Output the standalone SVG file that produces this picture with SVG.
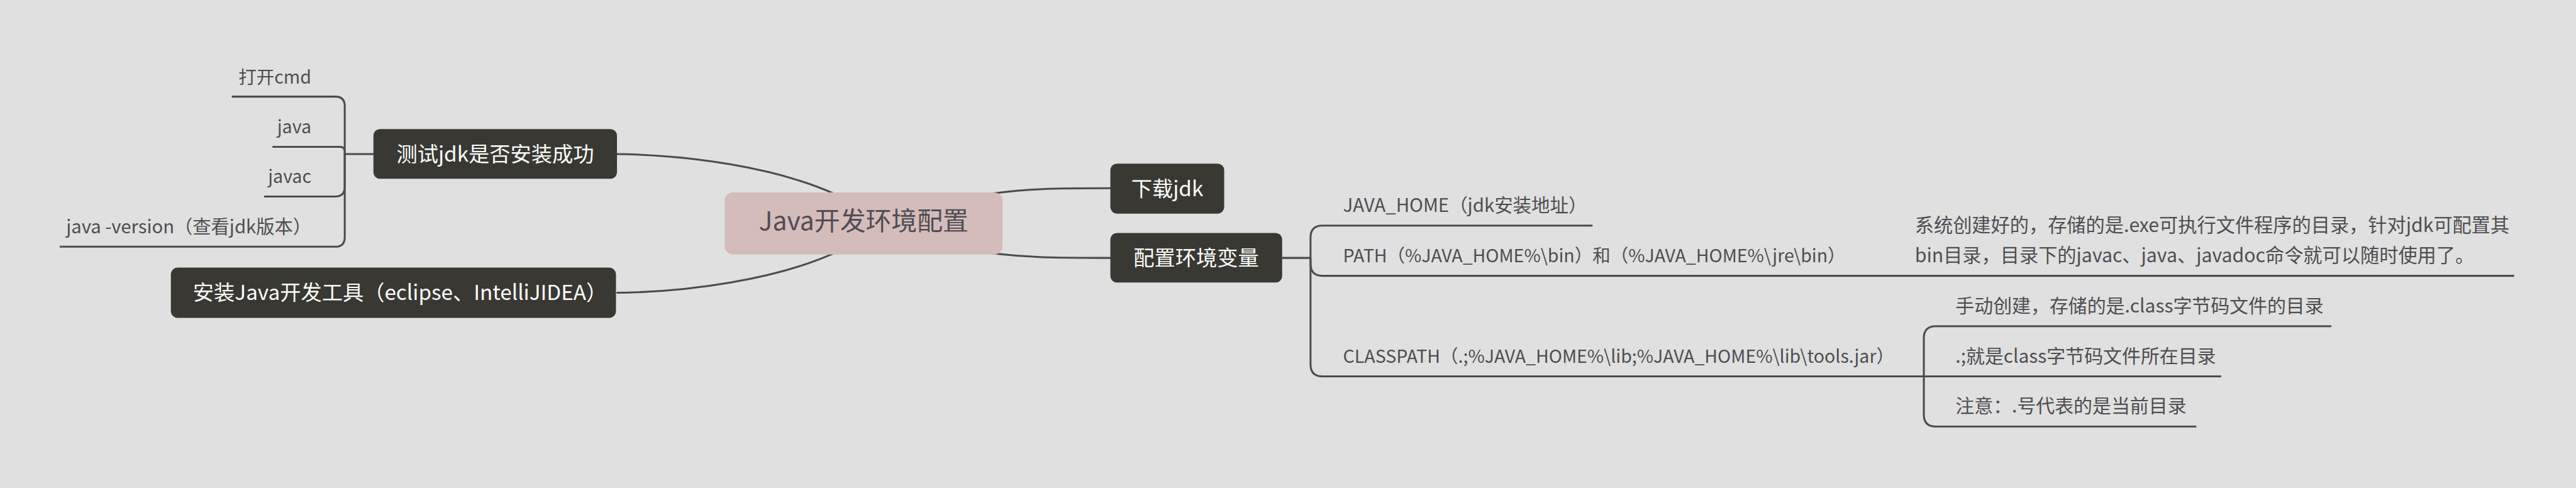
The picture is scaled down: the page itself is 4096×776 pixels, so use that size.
<svg xmlns="http://www.w3.org/2000/svg" width="4096" height="776" viewBox="0 0 4096 776">
<style>
.bg{fill:#e0e0e0}
.ln{fill:none;stroke:#4b4a4f;stroke-width:3.2;stroke-linecap:butt;stroke-linejoin:round}
.topic{fill:#393832}
.central{fill:#d3bcba}
text{font-family:"Noto Sans CJK SC","Microsoft YaHei",sans-serif}
.tt{fill:#ffffff;font-size:35px;text-anchor:middle}
.ct{fill:#4e4d52;font-size:43px;text-anchor:middle}
.st{fill:#4e4d52;font-size:30px}
.st2{fill:#4e4d52;font-size:31.5px}
.lt{fill:#4e4d52;font-size:31.8px}
.end{text-anchor:end}
</style>
<rect class="bg" x="0" y="0" width="4096" height="776"/>
<g transform="scale(0.95)">
<g id="connectors">
<path class="ln" d="M1032,258 C1150,259 1300,280 1400,326"/>
<path class="ln" d="M1032,490 C1150,489 1300,468 1400,422"/>
<path class="ln" d="M1660,324 C1720,316 1760,315 1860,315"/>
<path class="ln" d="M1660,424 C1720,431 1760,431.7 1860,431.7"/>
<path class="ln" d="M625,258 H577"/>
<path class="ln" d="M577,258 V177.7 Q577,161.7 561,161.7 H388"/>
<path class="ln" d="M577,258 V253.7 Q577,245.7 569,245.7 H456"/>
<path class="ln" d="M577,258 V313 Q577,329 561,329 H442"/>
<path class="ln" d="M577,258 V397 Q577,413 561,413 H100"/>
<path class="ln" d="M2146,431.7 H2193.5"/>
<path class="ln" d="M2193.5,431.7 V397.7 Q2193.5,377.7 2213.5,377.7 H2665.6"/>
<path class="ln" d="M2193.5,431.7 V441.7 Q2193.5,461.7 2213.5,461.7 H4208"/>
<path class="ln" d="M2193.5,431.7 V610 Q2193.5,630 2213.5,630 H3220"/>
<path class="ln" d="M3220,630 V566 Q3220,546 3240,546 H3902"/>
<path class="ln" d="M3220,630 H3717.6"/>
<path class="ln" d="M3220,630 V694 Q3220,714 3240,714 H3676"/>
</g>
<g id="central">
<rect class="central" x="1213" y="322" width="465" height="104" rx="14"/>
<text class="ct" x="1445.5" y="385">Java开发环境配置</text>
</g>
<g id="download-jdk">
<rect class="topic" x="1858.5" y="274" width="190.5" height="83.7" rx="11"/>
<text class="tt" x="1953.7" y="328">下载jdk</text>
</g>
<g id="config-env">
<rect class="topic" x="1858.5" y="390" width="287.5" height="83" rx="11"/>
<text class="tt" x="2002" y="444">配置环境变量</text>
</g>
<g id="test-jdk">
<rect class="topic" x="625" y="216" width="407.7" height="83.3" rx="11"/>
<text class="tt" x="828.9" y="270">测试jdk是否安装成功</text>
</g>
<g id="install-ide">
<rect class="topic" x="286" y="448" width="745" height="84" rx="11"/>
<text class="tt" x="669.5" y="502">安装Java开发工具（eclipse、IntelliJIDEA）</text>
</g>
<g id="open-cmd"><text class="st end" x="521" y="139.5">打开cmd</text></g>
<g id="java"><text class="st end" x="521" y="223">java</text></g>
<g id="javac"><text class="st end" x="521" y="306.5">javac</text></g>
<g id="java-version"><text class="st end" x="521" y="390.5" style="font-size:30.8px">java -version（查看jdk版本）</text></g>
<g id="java-home"><text class="st" x="2248" y="354.5" style="font-size:31px">JAVA_HOME（jdk安装地址）</text></g>
<g id="path"><text class="st" x="2248" y="438.5">PATH（%JAVA_HOME%\bin）和（%JAVA_HOME%\jre\bin）</text></g>
<g id="path-note">
<text class="lt" x="3205" y="388.5">系统创建好的，存储的是.exe可执行文件程序的目录，针对jdk可配置其</text>
<text class="lt" x="3205" y="438.5">bin目录，目录下的javac、java、javadoc命令就可以随时使用了。</text>
</g>
<g id="classpath"><text class="st" x="2248" y="607">CLASSPATH（.;%JAVA_HOME%\lib;%JAVA_HOME%\lib\tools.jar）</text></g>
<g id="manual"><text class="st2" x="3273" y="523">手动创建，存储的是.class字节码文件的目录</text></g>
<g id="dot-semicolon"><text class="st2" x="3273" y="607">.;就是class字节码文件所在目录</text></g>
<g id="note"><text class="st2" x="3273" y="691">注意：.号代表的是当前目录</text></g>
</g>
</svg>
